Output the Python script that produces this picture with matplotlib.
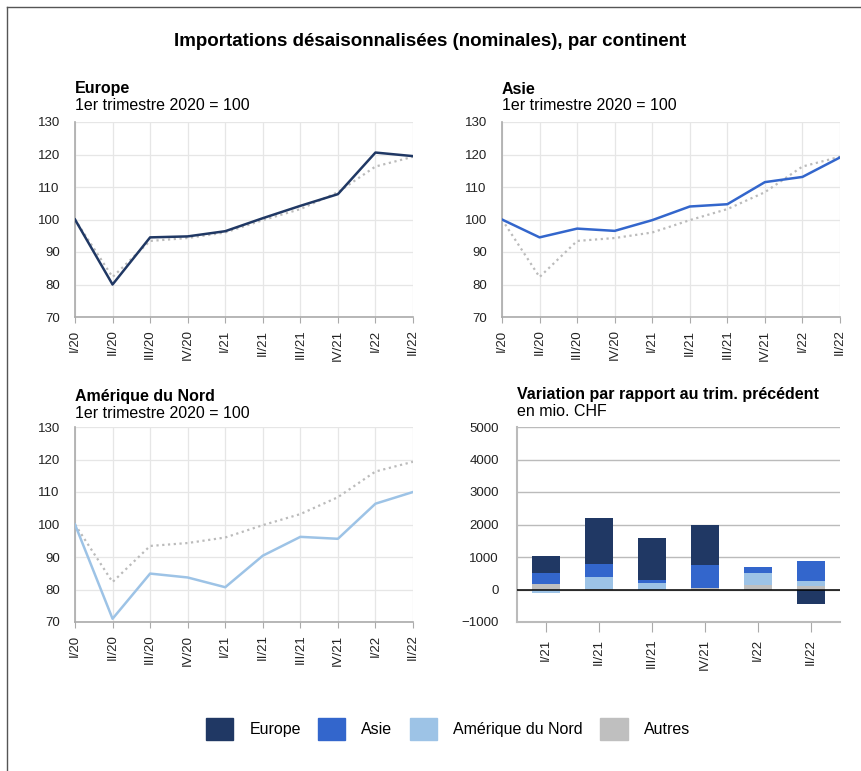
import matplotlib
matplotlib.use('Agg')
import matplotlib.pyplot as plt
from matplotlib.patches import Patch
from matplotlib.lines import Line2D

plt.rcParams['font.family'] = ['Liberation Sans', 'DejaVu Sans']

quarters = ['I/20', 'II/20', 'III/20', 'IV/20', 'I/21', 'II/21', 'III/21', 'IV/21', 'I/22', 'II/22']
total = [100, 82.3, 93.4, 94.3, 96.0, 99.8, 103.2, 108.4, 116.3, 119.3]
europe = [100, 80.0, 94.5, 94.8, 96.4, 100.4, 104.2, 107.8, 120.6, 119.5]
asie = [100, 94.5, 97.2, 96.5, 99.8, 104.0, 104.7, 111.5, 113.1, 119.1]
amerique = [100, 71.0, 84.9, 83.7, 80.7, 90.4, 96.2, 95.6, 106.4, 110.0]

bar_quarters = ['I/21', 'II/21', 'III/21', 'IV/21', 'I/22', 'II/22']
var_autres = [155, 20, -45, 60, 125, 95]
var_amerique = [-110, 350, 190, 0, 370, 155]
var_asie = [340, 430, 90, 680, 185, 620]
var_europe = [525, 1400, 1300, 1240, 0, -450]

c_europe = '#203864'
c_asie = '#3366cc'
c_amerique = '#9dc3e6'
c_autres = '#bfbfbf'
c_total = '#bbbbbb'

W, H = 861, 771
fig = plt.figure(figsize=(W / 100, H / 100), dpi=100)


def px_axes(x0, y0, x1, y1):
    return fig.add_axes([x0 / W, 1 - y1 / H, (x1 - x0) / W, (y1 - y0) / H])


def line_panel(x0, y0, x1, y1, values, color, title):
    ax = px_axes(x0, y0, x1, y1)
    x = range(len(quarters))
    ax.plot(x, total, color=c_total, lw=1.6, ls=(0, (1, 1.6)), zorder=3)
    ax.plot(x, values, color=color, lw=1.8, zorder=4)
    ax.set_xlim(0, len(quarters) - 1)
    ax.set_ylim(70, 130)
    ax.set_yticks(range(70, 131, 10))
    ax.set_xticks(list(x))
    ax.set_xticklabels(quarters, rotation=90, fontsize=9.5, color='#222222')
    ax.tick_params(axis='y', length=0, pad=11, labelsize=9.5, labelcolor='#222222')
    ax.tick_params(axis='x', length=4, color='#aaaaaa', pad=5)
    ax.grid(True, color='#e6e6e6', lw=0.9)
    ax.set_axisbelow(True)
    for s in ['top', 'right']:
        ax.spines[s].set_visible(False)
    for s in ['left', 'bottom']:
        ax.spines[s].set_color('#aaaaaa')
        ax.spines[s].set_linewidth(1.2)
    fig.text(x0 / W, 1 - 89 / H if y0 < 200 else 1 - 397 / H, title,
             fontsize=11.5, fontweight='bold', va='center', ha='left')
    fig.text(x0 / W, 1 - 106 / H if y0 < 200 else 1 - 413 / H, '1er trimestre 2020 = 100',
             fontsize=11.5, va='center', ha='left')
    return ax


line_panel(75, 122, 413, 317, europe, c_europe, 'Europe')
line_panel(502, 122, 840, 317, asie, c_asie, 'Asie')
line_panel(75, 427, 413, 622, amerique, c_amerique, 'Amérique du Nord')

# stacked bar panel
ax = px_axes(517, 427, 840, 622)
xb = range(len(bar_quarters))
bw = 0.54
pos_base = [0.0] * len(bar_quarters)
neg_base = [0.0] * len(bar_quarters)
for vals, col in [(var_autres, c_autres), (var_amerique, c_amerique),
                  (var_asie, c_asie), (var_europe, c_europe)]:
    bottoms = []
    for i, v in enumerate(vals):
        if v >= 0:
            bottoms.append(pos_base[i])
            pos_base[i] += v
        else:
            bottoms.append(neg_base[i])
            neg_base[i] += v
    ax.bar(xb, vals, bottom=bottoms, width=bw, color=col, zorder=3)
ax.axhline(0, color='black', lw=1.1, zorder=4)
ax.set_xlim(-0.55, len(bar_quarters) - 0.45)
ax.set_ylim(-1000, 5000)
ax.set_yticks(range(-1000, 5001, 1000))
ax.set_yticklabels(['\u22121000' if v < 0 else str(v) for v in range(-1000, 5001, 1000)])
ax.set_xticks(list(xb))
ax.set_xticklabels(bar_quarters, rotation=90, fontsize=9.5, color='#222222')
ax.tick_params(axis='y', length=0, pad=13, labelsize=9.5, labelcolor='#222222')
ax.tick_params(axis='x', length=7, color='#aaaaaa', pad=5)
ax.yaxis.grid(True, color='#bbbbbb', lw=1.0)
ax.set_axisbelow(True)
for s in ['top', 'right']:
    ax.spines[s].set_visible(False)
for s in ['left', 'bottom']:
    ax.spines[s].set_color('#bbbbbb')
    ax.spines[s].set_linewidth(1.5)
fig.text(517 / W, 1 - 395 / H, 'Variation par rapport au trim. précédent',
         fontsize=11.5, fontweight='bold', va='center', ha='left')
fig.text(517 / W, 1 - 412 / H, 'en mio. CHF', fontsize=11.5, va='center', ha='left')

fig.text(0.5, 1 - 42 / H, 'Importations désaisonnalisées (nominales), par continent',
         fontsize=13.5, fontweight='bold', ha='center', va='center')

handles = [Patch(color=c_europe), Patch(color=c_asie), Patch(color=c_amerique), Patch(color=c_autres)]
fig.legend(handles, ['Europe', 'Asie', 'Amérique du Nord', 'Autres'], ncol=4,
           loc='center', bbox_to_anchor=(448 / W, 1 - 729 / H), frameon=False,
           fontsize=11.5, handlelength=1.7, handleheight=1.7,
           handletextpad=1.0, columnspacing=1.1)

# frame lines at top and left
fig.add_artist(Line2D([7 / W, 7 / W], [0, 1 - 7 / H], color='#555555', lw=1.0))
fig.add_artist(Line2D([7 / W, 1], [1 - 7 / H, 1 - 7 / H], color='#555555', lw=1.0))

fig.savefig('out.png', dpi=100, facecolor='white')
